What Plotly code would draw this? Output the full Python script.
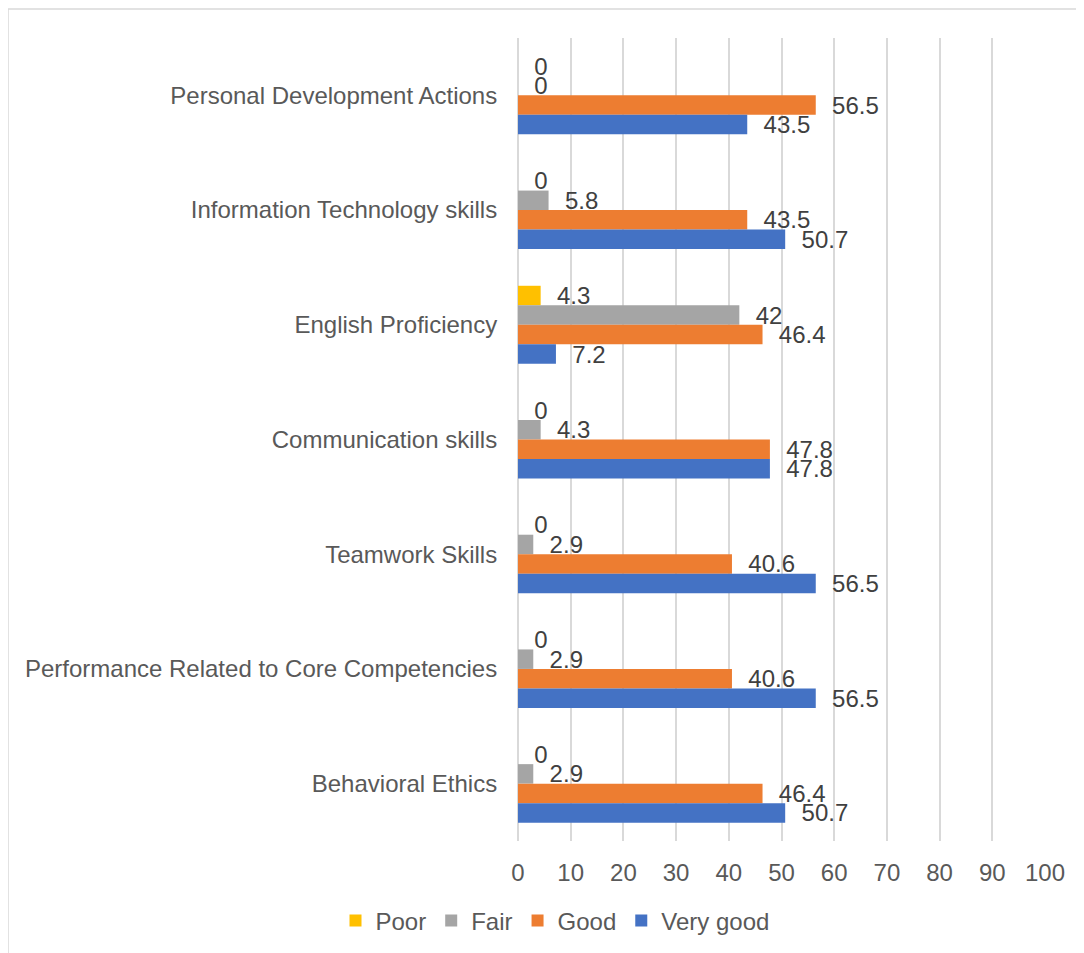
import plotly.graph_objects as go

categories = [
    "Personal Development Actions",
    "Information Technology skills",
    "English Proficiency",
    "Communication skills",
    "Teamwork Skills",
    "Performance Related to Core Competencies",
    "Behavioral Ethics",
]
poor = [0, 0, 4.3, 0, 0, 0, 0]
fair = [0, 5.8, 42, 4.3, 2.9, 2.9, 2.9]
good = [56.5, 43.5, 46.4, 47.8, 40.6, 40.6, 46.4]
very_good = [43.5, 50.7, 7.2, 47.8, 56.5, 56.5, 50.7]

series = [
    ("Poor", poor, "#FFC000"),
    ("Fair", fair, "#A5A5A5"),
    ("Good", good, "#ED7D31"),
    ("Very good", very_good, "#4472C4"),
]

FONT = "Liberation Sans, Arial, sans-serif"
FS = 24

fig = go.Figure()
for name, vals, color in series:
    fig.add_trace(go.Bar(
        name=name, y=categories, x=vals, orientation="h",
        marker=dict(color=color, line=dict(width=0)),
        texttemplate="  %{x}", textposition="outside",
        textfont=dict(family=FONT, size=FS, color="#404040"),
        constraintext="none", cliponaxis=False,
    ))

# page has an 8px body margin; work in page pixels and offset
OFF = 8
W, H = 1084 - OFF, 953 - OFF
L, R, T, B = 518 - OFF, 1045 - OFF, 38 - OFF, 841 - OFF
pw, ph = R - L, B - T

def px(x):
    return (x - OFF - L) / pw

def py(y):
    return (B - (y - OFF)) / ph

fig.update_layout(
    width=W, height=H,
    margin=dict(l=L, r=W - R, t=T, b=H - B, autoexpand=False),
    paper_bgcolor="white", plot_bgcolor="white",
    barmode="group", bargap=0.32, bargroupgap=0,
    font=dict(family=FONT, size=FS, color="#595959"),
    xaxis=dict(range=[0, 100], dtick=10, tick0=0, showgrid=True,
               gridcolor="#D9D9D9", gridwidth=1.5, zeroline=True,
               zerolinecolor="#D9D9D9", zerolinewidth=1.5, showline=False,
               ticks="outside", ticklen=10, tickcolor="white",
               tickfont=dict(size=FS, color="#595959")),
    yaxis=dict(autorange="reversed", showgrid=False, zeroline=False,
               showline=False, ticks="outside", ticklen=15, tickcolor="white",
               tickfont=dict(size=FS, color="#595959")),
    legend=dict(orientation="h", x=px(555), xanchor="center",
                y=py(921), yanchor="middle",
                font=dict(size=FS, color="#595959"),
                itemwidth=30, tracegroupgap=0),
    shapes=[
        dict(type="line", xref="paper", yref="paper",
             x0=px(8), x1=px(8), y0=py(9), y1=py(970),
             line=dict(color="#D9D9D9", width=1.5)),
        dict(type="line", xref="paper", yref="paper",
             x0=px(8), x1=px(1100), y0=py(9), y1=py(9),
             line=dict(color="#D9D9D9", width=1.5)),
    ],
)

fig.write_html("out.html")
